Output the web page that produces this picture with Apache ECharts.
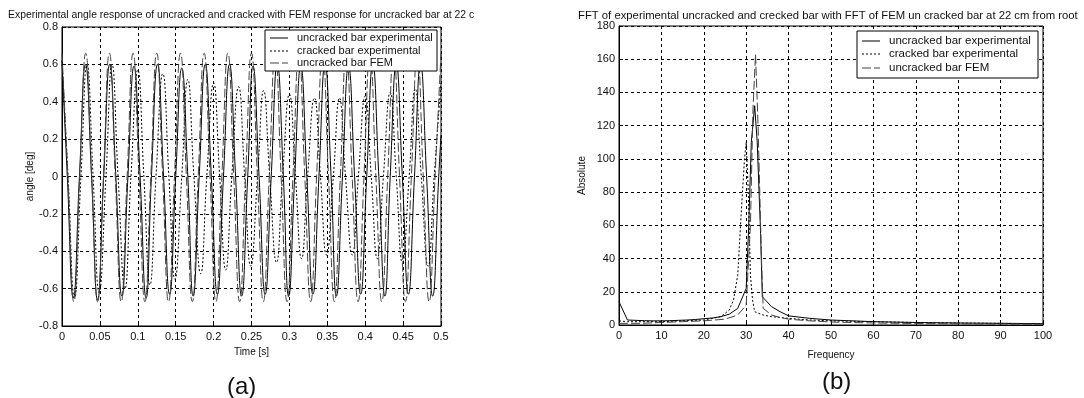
<!DOCTYPE html>
<html><head><meta charset="utf-8">
<script src="https://cdn.jsdelivr.net/npm/echarts@6/dist/echarts.min.js"></script>
<style>html,body{margin:0;padding:0;background:#fff}#c{width:1084px;height:398px}</style>
</head><body><div id="c"></div>
<script>
// ---------- Data ----------
// (a) time response, uncracked experimental
const ueT = [0,0.007,0.015,0.023,0.031,0.039,0.047,0.055,0.063,0.071,0.079,0.087,0.095,0.103,0.111,0.118,0.126,0.134,0.142,0.150,0.158,0.166,0.173,0.181,0.189,0.197,0.205,0.213,0.221,0.229,0.237,0.245,0.252,0.260,0.268,0.276,0.284,0.292,0.299,0.307,0.315,0.323,0.331,0.339,0.347,0.355,0.362,0.370,0.378,0.386,0.394,0.402,0.410,0.418,0.426,0.433,0.441,0.449,0.457,0.465,0.473,0.481,0.489,0.497,0.5];
const ueV = [0.62,0,-0.65,0,0.6,0,-0.66,0,0.6,0,-0.64,0,0.59,0,-0.65,0,0.6,0,-0.63,0,0.58,0,-0.64,0,0.6,0,-0.63,0,0.6,0,-0.64,0,0.59,0,-0.63,0,0.6,0,-0.64,0,0.59,0,-0.63,0,0.6,0,-0.64,0,0.59,0,-0.63,0,0.6,0,-0.64,0,0.6,0,-0.63,0,0.6,0,-0.64,0,0.22];
// (a) cracked experimental
const crT = [0,0.008,0.0165,0.025,0.033,0.041,0.049,0.058,0.066,0.074,0.083,0.091,0.1,0.108,0.116,0.124,0.133,0.141,0.149,0.158,0.166,0.174,0.183,0.191,0.2,0.208,0.216,0.224,0.233,0.241,0.249,0.258,0.266,0.274,0.283,0.291,0.3,0.308,0.316,0.324,0.333,0.341,0.349,0.358,0.366,0.374,0.383,0.391,0.4,0.408,0.416,0.424,0.433,0.441,0.449,0.458,0.466,0.474,0.483,0.491,0.5];
const crV = [0.62,0,-0.65,0,0.6,0,-0.62,0,0.6,0,-0.6,0,0.57,0,-0.58,0,0.55,0,-0.55,0,0.52,0,-0.52,0,0.5,0,-0.5,0,0.48,0,-0.48,0,0.46,0,-0.46,0,0.44,0,-0.44,0,0.42,0,-0.42,0,0.42,0,-0.42,0,0.43,0,-0.44,0,0.45,0,-0.46,0,0.47,0,-0.48,0,0.5];
// (a) uncracked FEM
const feT = [0,0.0078,0.0156,0.0234,0.0313,0.0391,0.0469,0.0547,0.0625,0.0703,0.0781,0.0859,0.0938,0.1016,0.1094,0.1172,0.125,0.1328,0.1406,0.1484,0.1563,0.1641,0.1719,0.1797,0.1875,0.1953,0.2031,0.2109,0.2188,0.2266,0.2344,0.2422,0.25,0.2578,0.2656,0.2734,0.2813,0.2891,0.2969,0.3047,0.3125,0.3203,0.3281,0.3359,0.3438,0.3516,0.3594,0.3672,0.375,0.3828,0.3906,0.3984,0.4063,0.4141,0.4219,0.4297,0.4375,0.4453,0.4531,0.4609,0.4688,0.4766,0.4844,0.4922,0.5];
const feV = [0.66,0,-0.67,0,0.66,0,-0.67,0,0.66,0,-0.67,0,0.66,0,-0.67,0,0.66,0,-0.67,0,0.66,0,-0.67,0,0.66,0,-0.67,0,0.66,0,-0.67,0,0.66,0,-0.67,0,0.66,0,-0.67,0,0.66,0,-0.67,0,0.66,0,-0.67,0,0.66,0,-0.67,0,0.66,0,-0.67,0,0.66,0,-0.67,0,0.66,0,-0.67,0,0.66];

// (b) FFT
const ueFreq = [0,2,4,6,8,10,12,14,16,18,20,22,24,26,28,30,30.6,31.2,32,32.6,33.4,33.8,36,38,40,45,50,60,70,80,90,100];
const ueAbs  = [14,3,2.8,2.6,2.5,2.5,2.6,2.8,3,3.3,3.8,4.2,5,6.5,10,22,60,110,132,110,55,17,11,8,5.5,4,3,2,1.5,1.2,1,0.8];
const crFreq = [0,2,5,10,15,20,24,26,27,28,29,29.6,30,30.5,31,31.5,32,34,36,40,45,50,60,70,80,90,100];
const crAbs  = [2.5,2,2,2,2.5,3,5,9,15,30,75,100,110,80,30,15,8,6,5,4,3,2.5,2,1.5,1.2,1,0.8];
const feFreq = [0,2,5,10,15,20,25,28,30,31,31.6,32.2,32.8,33.6,34,36,38,40,45,50,60,70,80,90,100];
const feAbs  = [1,1,1,1.5,2,2.5,3.5,6,12,60,130,163,120,40,10,6,4.5,3.5,2.5,1.8,1.2,0.9,0.7,0.6,0.5];

const legendNames = ['uncracked bar experimental','cracked bar experimental','uncracked bar FEM'];
const titleA = 'Experimental angle response of uncracked and cracked with FEM response for uncracked bar at 22 c';
const titleB = 'FFT of experimental uncracked and crecked bar with FFT of FEM un cracked bar at 22 cm from root';

// ---------- Chart ----------
const zip = (a,b) => a.map((x,i)=>[x,b[i]]);
const FONT = '"Liberation Sans", Arial, sans-serif';
const styles = [
  {color:'#000', width:1, type:'solid'},
  {color:'#000', width:1, type:[2,2]},
  {color:'#444', width:1, type:[9,3]}
];
function axisCommon(extra){
  return Object.assign({
    type:'value',
    axisLine:{show:true,onZero:false,lineStyle:{color:'#000',width:1}},
    axisTick:{show:true,inside:true,length:4,lineStyle:{color:'#000'}},
    splitLine:{show:true,lineStyle:{color:'#000',width:1,type:[3,3]}},
    axisLabel:{color:'#111',fontSize:11,fontFamily:FONT},
    nameTextStyle:{color:'#111',fontSize:10,fontFamily:FONT}
  }, extra);
}
const fmt = v => String(+v.toFixed(2));

const chart = echarts.init(document.getElementById('c'), null, {renderer:'canvas'});
function legendGraphic(x,y,w,h,rowY,lx1,lx2,tx,fs){
  const els = [{type:'rect',shape:{x:x,y:y,width:w,height:h},style:{fill:'#fff',stroke:'#000',lineWidth:1},z:100}];
  legendNames.forEach((n,i)=>{
    els.push({type:'line',shape:{x1:lx1,y1:rowY[i],x2:lx2,y2:rowY[i]},style:{stroke:styles[i].color,lineWidth:1,lineDash:Array.isArray(styles[i].type)?styles[i].type:null},z:101});
    els.push({type:'text',x:tx,y:rowY[i],style:{text:n,font:fs+'px '+FONT,fill:'#111',textVerticalAlign:'middle',textAlign:'left'},z:101});
  });
  return els;
}
const tStyle = (fs) => ({fontSize:fs,fontWeight:'normal',color:'#111',fontFamily:FONT});
const option = {
  backgroundColor:'#fff',
  animation:false,
  title:[
    {text:titleA,left:8,top:10,padding:0,textStyle:tStyle(10.4)},
    {text:titleB,left:578,top:10,padding:0,textStyle:tStyle(11.3)},
    {text:'(a)',left:227,top:375,padding:0,textStyle:tStyle(24)},
    {text:'(b)',left:822,top:370,padding:0,textStyle:tStyle(24)}
  ],
  grid:[
    {left:62,top:27,width:379,height:299,show:true,borderColor:'#000',borderWidth:1,backgroundColor:'#fff'},
    {left:619,top:26,width:424,height:299,show:true,borderColor:'#000',borderWidth:1,backgroundColor:'#fff'}
  ],
  xAxis:[
    axisCommon({gridIndex:0,min:0,max:0.5,interval:0.05,name:'Time [s]',nameLocation:'middle',nameGap:21,axisLabel:{color:'#111',fontSize:11,fontFamily:FONT,margin:5,formatter:fmt}}),
    axisCommon({gridIndex:1,min:0,max:100,interval:10,name:'Frequency',nameLocation:'middle',nameGap:25,axisLabel:{color:'#111',fontSize:11,fontFamily:FONT,margin:5}})
  ],
  yAxis:[
    axisCommon({gridIndex:0,min:-0.8,max:0.8,interval:0.2,name:'angle [deg]',nameLocation:'middle',nameGap:27,axisLabel:{color:'#111',fontSize:11,fontFamily:FONT,margin:4,formatter:fmt}}),
    axisCommon({gridIndex:1,min:0,max:180,interval:20,name:'Absolute',nameLocation:'middle',nameGap:32,axisLabel:{color:'#111',fontSize:11,fontFamily:FONT,margin:4}})
  ],
  series:[
    {name:legendNames[0],type:'line',xAxisIndex:0,yAxisIndex:0,data:zip(ueT,ueV),smooth:0.5,showSymbol:false,lineStyle:styles[0],z:3},
    {name:legendNames[1],type:'line',xAxisIndex:0,yAxisIndex:0,data:zip(crT,crV),smooth:0.5,showSymbol:false,lineStyle:styles[1],z:2},
    {name:legendNames[2],type:'line',xAxisIndex:0,yAxisIndex:0,data:zip(feT,feV),smooth:0.5,showSymbol:false,lineStyle:styles[2],z:4},
    {name:legendNames[0],type:'line',xAxisIndex:1,yAxisIndex:1,data:zip(ueFreq,ueAbs),showSymbol:false,lineStyle:styles[0],z:3},
    {name:legendNames[1],type:'line',xAxisIndex:1,yAxisIndex:1,data:zip(crFreq,crAbs),showSymbol:false,lineStyle:styles[1],z:2},
    {name:legendNames[2],type:'line',xAxisIndex:1,yAxisIndex:1,data:zip(feFreq,feAbs),showSymbol:false,lineStyle:styles[2],z:4}
  ],
  graphic:[].concat(
    legendGraphic(265,30,172,41,[38,51,63],270,288,297,11),
    legendGraphic(857,31,181,47,[41,54,68],862,880,889,11.5)
  )
};
chart.setOption(option);
</script>
</body></html>
